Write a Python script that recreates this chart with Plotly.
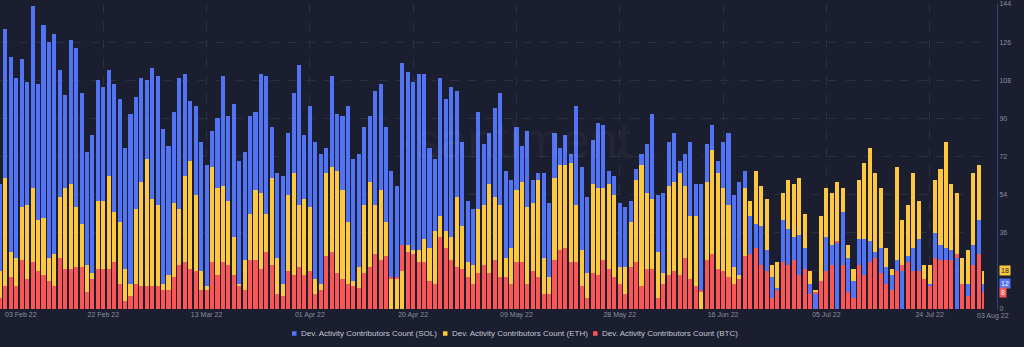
import datetime as dt
import plotly.graph_objects as go

start = dt.date(2022, 2, 3)

sol = [59, 132, 119, 109, 118, 107, 143, 106, 134, 126, 130, 113, 101, 127, 123, 102, 74, 82, 108, 105,
       113, 106, 99, 76, 92, 100, 109, 108, 114, 110, 85, 77, 93, 109, 111, 98, 96, 79, 68, 84,
       90, 110, 91, 97, 70, 74, 91, 93, 111, 110, 86, 64, 63, 83, 102, 115, 82, 96, 79, 73,
       76, 110, 92, 91, 96, 71, 73, 86, 91, 103, 106, 86, 65, 58, 116, 112, 107, 111, 111, 76,
       71, 109, 99, 105, 103, 79, 51, 47, 93, 78, 83, 95, 102, 65, 61, 86, 77, 84, 61, 64,
       64, 50, 83, 76, 82, 73, 96, 67, 53, 80, 88, 87, 65, 63, 50, 48, 51, 66, 73, 78,
       92, 54, 55, 79, 83, 70, 73, 79, 59, 59, 78, 87, 70, 79, 83, 54, 60, 65, 44, 40,
       39, 28, 15, 10, 42, 38, 34, 35, 29, 12, 7, 0, 34, 30, 31, 46, 24, 13, 33, 33,
       32, 27, 29, 20, 16, 23, 18, 25, 29, 33, 0, 12, 36, 30, 29, 28, 24, 0, 12, 30,
       42, 12]
eth = [18, 62, 27, 24, 48, 49, 57, 42, 43, 24, 26, 53, 57, 59, 48, 40, 21, 17, 51, 51,
       63, 46, 41, 19, 12, 47, 60, 71, 52, 49, 12, 16, 50, 47, 63, 70, 54, 18, 11, 67,
       57, 58, 51, 34, 12, 23, 45, 56, 55, 45, 62, 24, 12, 54, 64, 49, 52, 48, 14, 12,
       64, 67, 65, 56, 41, 13, 20, 49, 60, 49, 56, 41, 14, 14, 18, 30, 28, 28, 33, 29,
       37, 44, 37, 34, 53, 39, 22, 21, 47, 49, 59, 53, 49, 24, 29, 56, 60, 48, 50, 61,
       24, 15, 62, 68, 68, 69, 49, 28, 17, 59, 57, 57, 59, 54, 20, 20, 41, 61, 68, 55,
       52, 27, 17, 58, 60, 64, 58, 44, 44, 8, 60, 75, 64, 57, 49, 20, 16, 57, 51, 65,
       58, 52, 21, 22, 55, 61, 59, 62, 45, 18, 9, 44, 57, 55, 60, 57, 30, 19, 61, 69,
       76, 64, 57, 29, 19, 67, 42, 49, 64, 51, 21, 21, 61, 66, 79, 59, 55, 24, 28, 64,
       68, 18]
btc = [5, 11, 15, 11, 23, 14, 22, 18, 16, 13, 11, 24, 19, 19, 20, 20, 8, 14, 19, 19,
       19, 22, 12, 4, 6, 12, 11, 11, 11, 11, 9, 9, 15, 21, 22, 19, 18, 9, 9, 22,
       16, 22, 21, 16, 11, 9, 23, 23, 19, 27, 21, 7, 6, 18, 16, 20, 16, 18, 7, 9,
       25, 27, 17, 14, 12, 11, 10, 17, 20, 26, 23, 25, 15, 15, 30, 27, 26, 22, 22, 13,
       12, 34, 29, 23, 20, 19, 15, 12, 17, 21, 17, 23, 15, 15, 12, 22, 22, 12, 18, 15,
       7, 7, 23, 28, 29, 22, 22, 11, 5, 17, 16, 23, 19, 15, 12, 7, 20, 22, 11, 19,
       19, 5, 12, 16, 18, 16, 24, 14, 11, 9, 23, 26, 19, 18, 15, 12, 14, 25, 26, 29,
       21, 18, 5, 9, 22, 21, 23, 16, 19, 7, 8, 13, 18, 21, 32, 21, 8, 5, 21, 16,
       22, 24, 17, 12, 9, 18, 21, 22, 18, 18, 14, 11, 24, 23, 23, 23, 26, 12, 6, 21,
       26, 8]

series_names = ["Dev. Activity Contributors Count (SOL)",
                "Dev. Activity Contributors Count (ETH)",
                "Dev. Activity Contributors Count (BTC)"]
series_colors = ["#5274f4", "#fdc83f", "#fb5656"]
y_ticks = [0, 18, 36, 54, 72, 90, 108, 126, 144]
x_tick_labels = ["22 Feb 22", "13 Mar 22", "01 Apr 22", "20 Apr 22", "09 May 22",
                 "28 May 22", "16 Jun 22", "05 Jul 22", "24 Jul 22"]
first_label = "03 Feb 22"
last_label = "03 Aug 22"

dates = [start + dt.timedelta(days=i) for i in range(len(sol))]
series = [sol, eth, btc]

# overlay: tallest value drawn behind, shortest in front
layers = [[], [], []]
layer_cols = [[], [], []]
for i in range(len(dates)):
    vals = [(series[k][i], k) for k in range(3)]
    vals.sort(key=lambda t: -t[0])
    for r in range(3):
        layers[r].append(vals[r][0])
        layer_cols[r].append(series_colors[vals[r][1]])

bg = "#1b1e2e"
W, H = 1024, 347
ML, MR, MT, MB = 0, 24, 4, 38
PW, PH = W - ML - MR, H - MT - MB


def px_x(p):
    return (p - ML) / PW


def px_y(p):
    return (H - MB - p) / PH


fig = go.Figure()
bar_w = 0.75 * 86400000
for r in range(3):
    fig.add_trace(go.Bar(x=dates, y=layers[r], width=bar_w,
                         marker=dict(color=layer_cols[r], line=dict(width=0)),
                         showlegend=False, hoverinfo="skip"))

tick_dates = [dt.datetime.strptime(t, "%d %b %y").date() for t in x_tick_labels]

fig.update_layout(
    width=W, height=H,
    margin=dict(l=ML, r=MR, t=MT, b=MB),
    paper_bgcolor=bg, plot_bgcolor=bg,
    barmode="overlay", bargap=0, showlegend=False,
    font=dict(family="Liberation Sans, Arial, sans-serif", color="#8b8ea3", size=7),
    xaxis=dict(type="date", domain=[0, 0.984],
               range=[dates[0].isoformat(), dates[-1].isoformat()],
               tickvals=tick_dates, ticktext=x_tick_labels,
               showgrid=True, gridcolor="#2b2f43", griddash="dash", gridwidth=1,
               zeroline=False, showline=False, ticks="", tickfont=dict(size=7, color="#8b8ea3")),
    yaxis=dict(range=[0, 144], tickvals=y_ticks, side="right", anchor="free", position=0.997,
               showgrid=True, gridcolor="#2b2f43", griddash="dash", gridwidth=1,
               zeroline=False, showline=True, linecolor="#33427c", linewidth=1,
               ticks="", tickfont=dict(size=7, color="#8b8ea3")),
)

# watermark
fig.add_annotation(text="·santiment", xref="paper", yref="paper", x=0.515, y=0.55,
                   showarrow=False, font=dict(size=50, color="rgba(255,255,255,0.035)",
                                              family="Liberation Sans, Arial, sans-serif"))
# edge date labels
fig.add_annotation(text=first_label, xref="paper", yref="paper", x=px_x(3), y=px_y(314),
                   xanchor="left", yanchor="middle", showarrow=False,
                   font=dict(size=7, color="#8b8ea3"))
fig.add_annotation(text=last_label, xref="paper", yref="paper", x=px_x(993), y=px_y(316),
                   xanchor="center", yanchor="middle", showarrow=False,
                   font=dict(size=7, color="#8b8ea3"))
# last-value markers
txt_cols = ["#ffffff", "#1b1e2e", "#ffffff"]
for k in range(3):
    fig.add_annotation(text=str(series[k][-1]), xref="paper", yref="y", x=px_x(999), y=series[k][-1],
                       xanchor="left", yanchor="middle", showarrow=False, bgcolor=series_colors[k],
                       borderpad=1, font=dict(size=7, color=txt_cols[k]))

# legend (square + label)
legend_x = [292, 443, 593]
legend_y = 333.5
for k in range(3):
    x0 = legend_x[k]
    fig.add_shape(type="rect", xref="paper", yref="paper",
                  x0=px_x(x0), x1=px_x(x0 + 4.5), y0=px_y(legend_y + 2.25), y1=px_y(legend_y - 2.25),
                  fillcolor=series_colors[k], line=dict(width=0))
    fig.add_annotation(text=series_names[k], xref="paper", yref="paper",
                       x=px_x(x0 + 7), y=px_y(legend_y), xanchor="left", yanchor="middle",
                       showarrow=False, font=dict(size=8, color="#c3c6d4"))

fig.write_html("out.html")
